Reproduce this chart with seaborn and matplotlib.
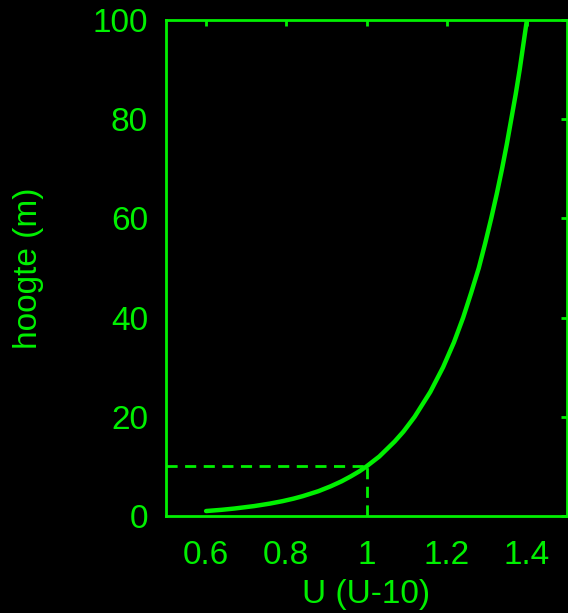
import matplotlib
matplotlib.use("Agg")
import matplotlib.pyplot as plt
import seaborn as sns
import pandas as pd

# values (wind profile, U relative to U at 10 m)
hoogte = [1, 1.25, 1.5, 2, 2.5, 3, 3.5, 4, 5, 6, 7, 8, 9, 10, 12, 15, 17, 20,
          25, 30, 35, 40, 45, 50, 55, 60, 65, 70, 75, 80, 85, 90, 95, 100]
u_rel = [0.600, 0.639, 0.670, 0.720, 0.759, 0.791, 0.818, 0.841, 0.880, 0.911,
         0.938, 0.961, 0.982, 1.000, 1.032, 1.070, 1.092, 1.120, 1.159, 1.191,
         1.218, 1.241, 1.261, 1.280, 1.296, 1.311, 1.325, 1.338, 1.350, 1.361,
         1.372, 1.382, 1.391, 1.400]
ref_u = 1.0
ref_z = 10
x_ticks = [0.6, 0.8, 1.0, 1.2, 1.4]
x_ticklabels = ["0.6", "0.8", "1", "1.2", "1.4"]
y_ticks = [0, 20, 40, 60, 80, 100]

green = "#00f000"
sns.set_style("dark")
plt.rcParams["font.family"] = ["Liberation Sans", "DejaVu Sans"]

df = pd.DataFrame({"hoogte": hoogte, "U": u_rel})

fig = plt.figure(figsize=(5.68, 6.13), dpi=100, facecolor="black")
ax = fig.add_axes([166 / 568, 1 - 516 / 613, 401 / 568, 496 / 613])
ax.set_facecolor("black")

sns.lineplot(data=df, x="U", y="hoogte", sort=False, color=green, lw=3.2, ax=ax)

ax.hlines(ref_z, 0.5, ref_u, colors=green, linestyles=(0, (4, 2.7)), lw=2)
ax.vlines(ref_u, 0, ref_z, colors=green, linestyles=(0, (4, 2.7)), lw=2)

ax.set_xlim(0.5, 1.5)
ax.set_ylim(0, 100)
ax.set_xticks(x_ticks)
ax.set_xticklabels(x_ticklabels)
ax.set_yticks(y_ticks)
ax.grid(False)

for s in ax.spines.values():
    s.set_visible(True)
    s.set_color(green)
    s.set_linewidth(2)

ax.tick_params(axis="both", direction="in", length=4, width=2, color=green,
               labelcolor=green, labelsize=24, top=True, right=True)
ax.tick_params(axis="x", pad=17)
ax.tick_params(axis="y", pad=13)

ax.set_xlabel("U (U-10)", color=green, fontsize=24, labelpad=6)
ax.set_ylabel("hoogte (m)", color=green, fontsize=24, labelpad=35)

fig.savefig("out.png", dpi=100, facecolor="black")
